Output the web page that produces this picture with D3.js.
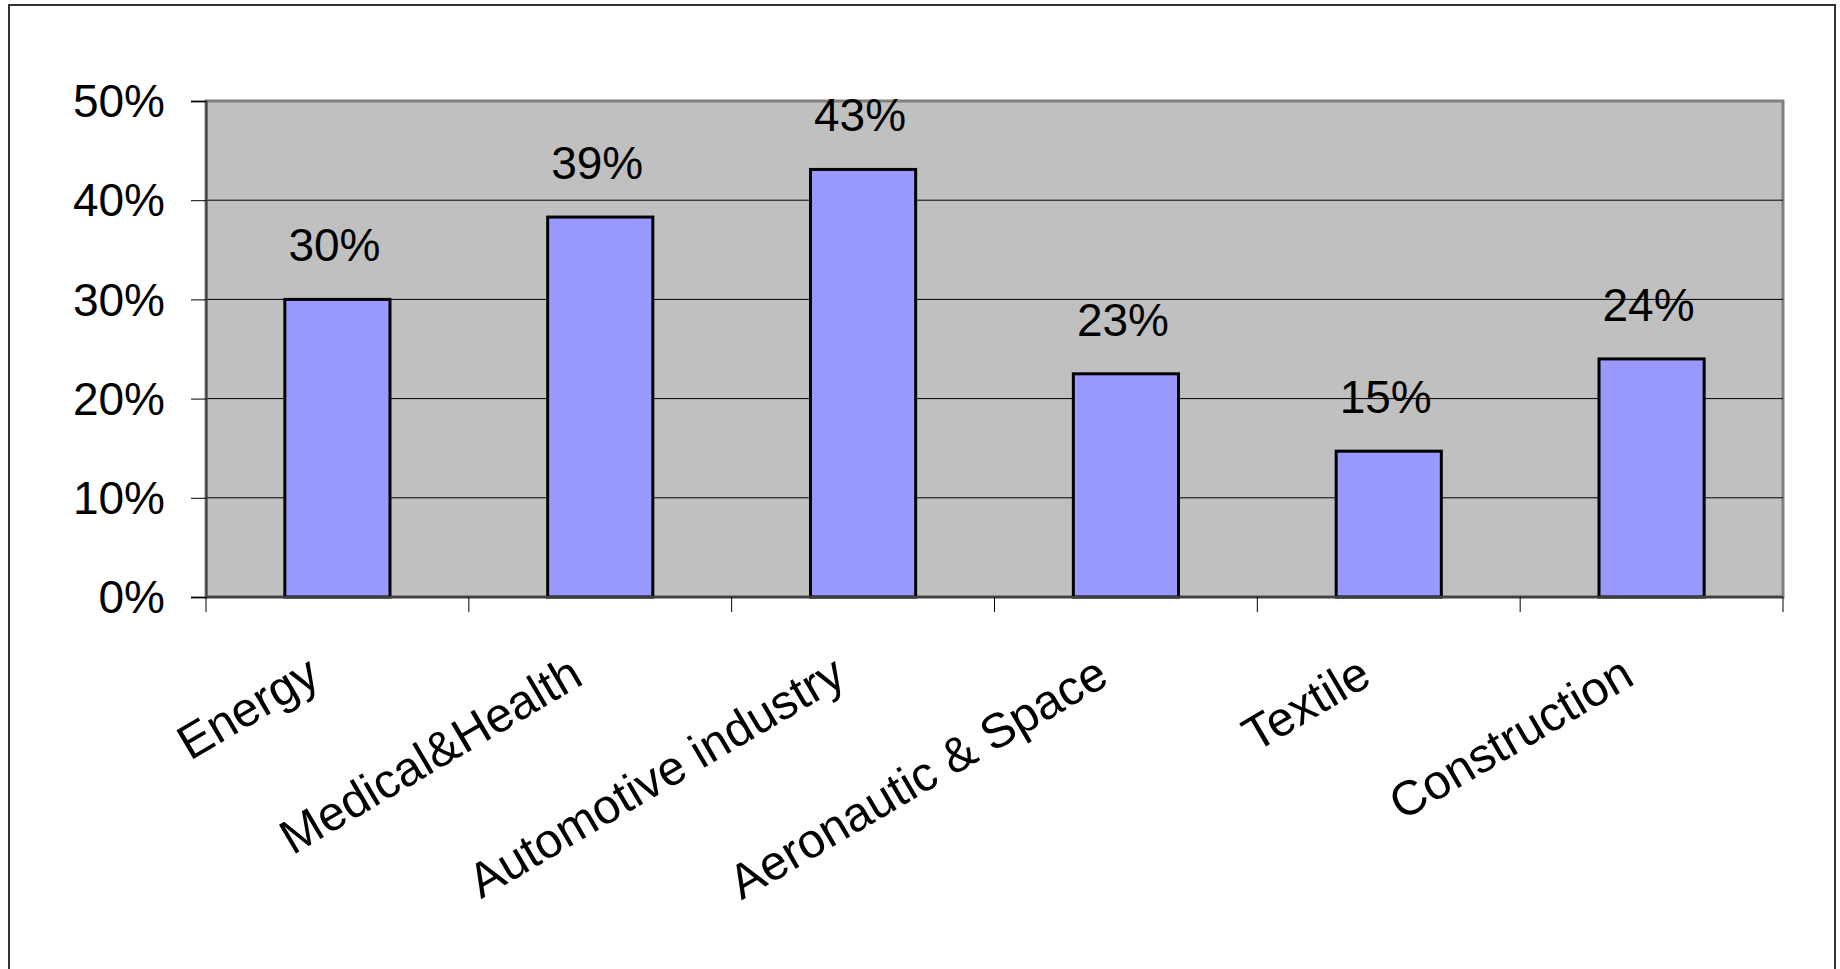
<!DOCTYPE html>
<html>
<head>
<meta charset="utf-8">
<script src="https://cdn.jsdelivr.net/npm/d3@7"></script>
<style>
  html, body { margin: 0; padding: 0; background: #fff; }
  svg { display: block; }
  text { font-family: "Liberation Sans", Arial, sans-serif; fill: #000; }
</style>
</head>
<body>
<svg id="chart" width="1840" height="969"></svg>
<script>
const categories = ["Energy", "Medical&Health", "Automotive industry", "Aeronautic & Space", "Textile", "Construction"];
const values = [0.300, 0.383, 0.431, 0.225, 0.147, 0.240];
const valueLabels = ["30%", "39%", "43%", "23%", "15%", "24%"];
const yTicks = [0, 0.1, 0.2, 0.3, 0.4, 0.5];

const W = 1840, H = 969;
const plot = { left: 206, right: 1783, top: 101, bottom: 597 };

const svg = d3.select("#chart");

// outer frame
svg.append("rect")
  .attr("x", 9).attr("y", 5)
  .attr("width", 1835 - 9).attr("height", H + 20)
  .attr("fill", "#fff").attr("stroke", "#333").attr("stroke-width", 2);

const x = d3.scaleBand()
  .domain(categories)
  .range([plot.left, plot.right])
  .paddingInner(0.6)
  .paddingOuter(0.3);

const y = d3.scaleLinear()
  .domain([0, 0.5])
  .range([plot.bottom, plot.top]);

// plot area
svg.append("rect")
  .attr("x", plot.left).attr("y", plot.top)
  .attr("width", plot.right - plot.left).attr("height", plot.bottom - plot.top)
  .attr("fill", "#C0C0C0").attr("stroke", "#808080").attr("stroke-width", 3);

// gridlines
svg.append("g")
  .selectAll("line")
  .data(yTicks.filter(t => t > 0 && t < 0.5))
  .join("line")
  .attr("x1", plot.left).attr("x2", plot.right)
  .attr("y1", d => y(d)).attr("y2", d => y(d))
  .attr("stroke", "#000").attr("stroke-width", 1);

// y axis
const yAxis = svg.append("g")
  .attr("transform", `translate(${plot.left},0)`)
  .call(d3.axisLeft(y).tickValues(yTicks).tickFormat(d3.format(".0%")).tickSize(15).tickPadding(26));
yAxis.select(".domain").attr("stroke", "#404040").attr("stroke-width", 2);
yAxis.selectAll(".tick line").attr("stroke", "#000").attr("stroke-width", 1);
yAxis.selectAll(".tick text")
  .attr("font-size", 46)
  .attr("font-family", "'Liberation Sans', Arial, sans-serif")
  .attr("dy", "0.34em");

// bars
svg.append("g")
  .selectAll("rect")
  .data(categories)
  .join("rect")
  .attr("x", d => x(d))
  .attr("width", x.bandwidth())
  .attr("y", (d, i) => y(values[i]))
  .attr("height", (d, i) => y(0) - y(values[i]))
  .attr("fill", "#9999FF")
  .attr("stroke", "#000")
  .attr("stroke-width", 3);

// x axis line + ticks
const step = x.step();
const boundaries = categories.map(c => x(c) - step * x.paddingOuter());
boundaries.push(plot.right);
svg.append("line")
  .attr("x1", plot.left).attr("x2", plot.right)
  .attr("y1", plot.bottom).attr("y2", plot.bottom)
  .attr("stroke", "#404040").attr("stroke-width", 2.5);
svg.append("g")
  .selectAll("line")
  .data(boundaries)
  .join("line")
  .attr("x1", d => d).attr("x2", d => d)
  .attr("y1", plot.bottom).attr("y2", plot.bottom + 15)
  .attr("stroke", "#000").attr("stroke-width", 1);

// value labels
svg.append("g")
  .selectAll("text")
  .data(categories)
  .join("text")
  .attr("x", d => x(d) + x.bandwidth() / 2 - 3)
  .attr("y", (d, i) => y(values[i]) - 38)
  .attr("text-anchor", "middle")
  .attr("font-size", 46)
  .text((d, i) => valueLabels[i]);

// category labels
svg.append("g")
  .selectAll("text")
  .data(categories)
  .join("text")
  .attr("transform", d => `translate(${x(d) + x.bandwidth() / 2 - 15},${plot.bottom + 86}) rotate(-30.5)`)
  .attr("text-anchor", "end")
  .attr("font-size", 48.5)
  .text(d => d);
</script>
</body>
</html>
